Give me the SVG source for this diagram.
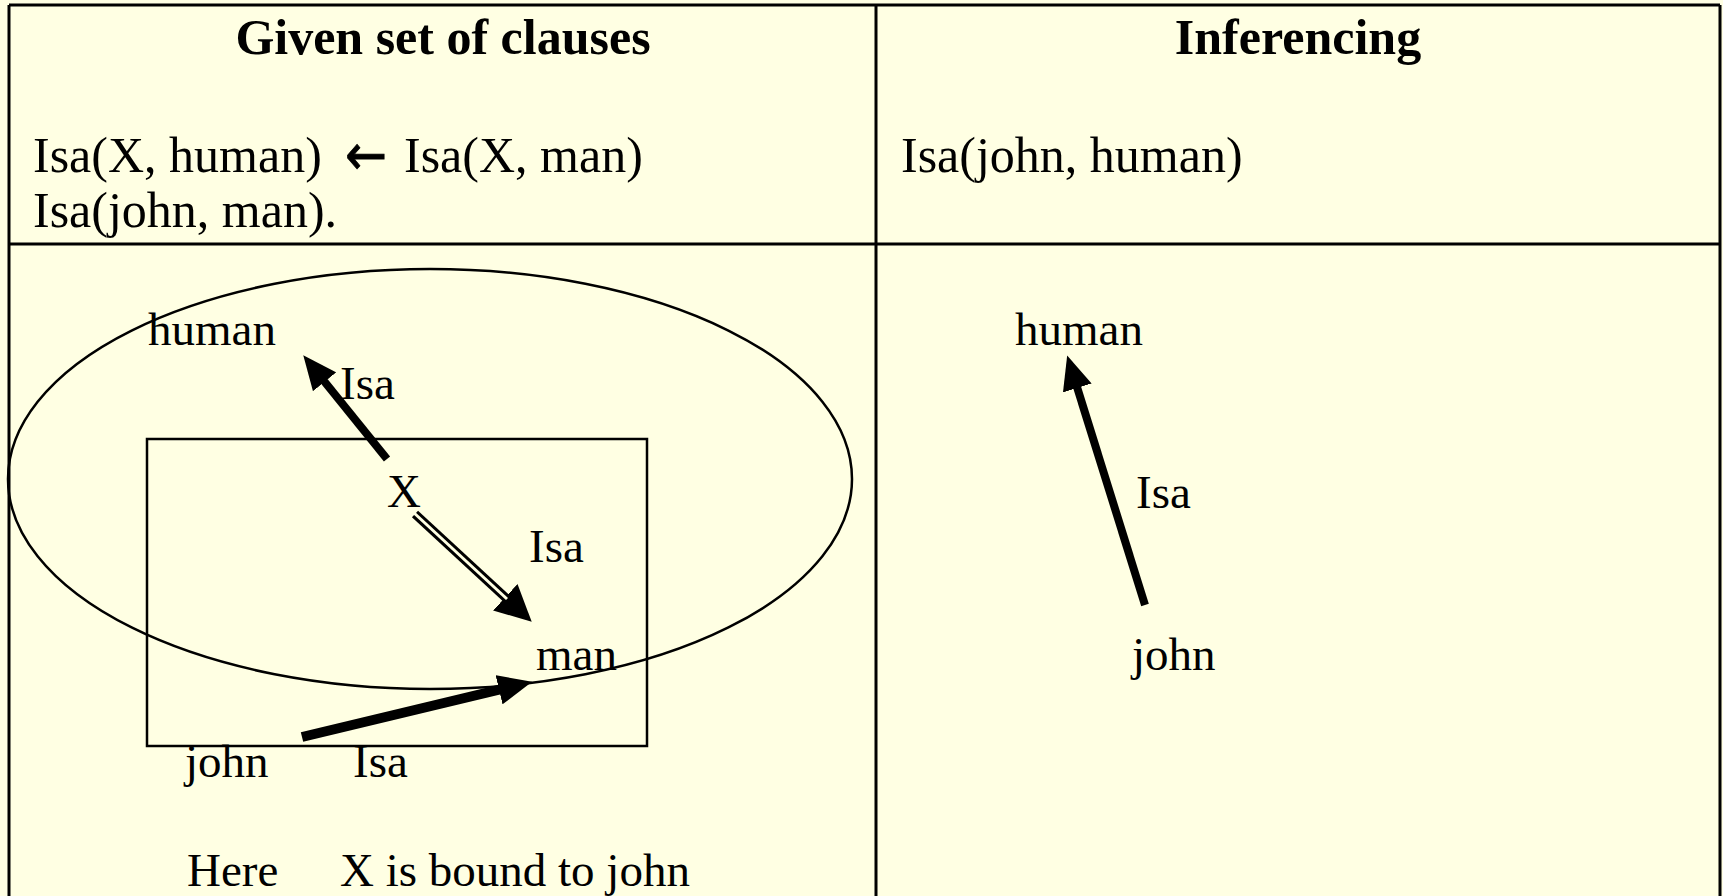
<svg xmlns="http://www.w3.org/2000/svg" width="1723" height="896" viewBox="0 0 1723 896">
<defs>
<style>
.t{font-family:"Liberation Serif","Times New Roman",serif;fill:#000}
.h{font-size:50px;font-weight:bold}
.u{font-size:50px}
.l{font-size:47px}
.grid{stroke:#000;stroke-width:3;fill:none}
.thin{stroke:#000;stroke-width:2.5;fill:none}
.arr{stroke:#000;fill:none;marker-end:url(#ah)}
</style>
<marker id="ah" markerUnits="userSpaceOnUse" markerWidth="34" markerHeight="30" viewBox="0 0 34 30" refX="1" refY="15" orient="auto">
<path d="M0,0 L34,15 L0,30 z" fill="#000"/>
</marker>
<marker id="ah2" markerUnits="userSpaceOnUse" markerWidth="36" markerHeight="36" viewBox="0 0 36 36" refX="1" refY="18" orient="auto">
<path d="M0,0 L36,18 L0,36 z" fill="#000"/>
</marker>
</defs>
<rect x="0" y="0" width="1723" height="896" fill="#FFFFE3"/>
<g id="table">
<path class="grid" d="M9,5 H1720 M9,5 V896 M1720,5 V896 M876,5 V896 M9,244 H1720"/>
</g>
<g id="headers">
<text class="t h" x="443" y="54" text-anchor="middle">Given set of clauses</text>
<text class="t h" x="1298" y="54" text-anchor="middle">Inferencing</text>
</g>
<g id="clauses">
<text class="t u" x="33" y="172">Isa(X, human)</text>
<text x="345" y="175" textLength="42" lengthAdjust="spacingAndGlyphs" style="font-family:'DejaVu Sans',sans-serif;font-size:58px;stroke:#000;stroke-width:0.8">←</text>
<text class="t u" x="404" y="172">Isa(X, man)</text>
<text class="t u" x="33" y="227">Isa(john, man).</text>
<text class="t u" x="901" y="172">Isa(john, human)</text>
</g>
<g id="scope">
<ellipse class="thin" cx="430" cy="479" rx="422" ry="210"/>
<rect class="thin" x="147" y="439" width="500" height="307"/>
</g>
<g id="connectors">
<line class="arr" x1="387" y1="459" x2="324" y2="381" stroke-width="8"/>
<line x1="415" y1="514" x2="506" y2="598" stroke="#000" stroke-width="9" marker-end="url(#ah2)"/>
<line x1="413" y1="512" x2="507" y2="599" stroke="#FFFFE3" stroke-width="3"/>
<line class="arr" x1="302" y1="737" x2="500" y2="689.5" stroke-width="10"/>
<line class="arr" x1="1145" y1="605" x2="1077" y2="387" stroke-width="8"/>
</g>
<g id="node-human-left"><text class="t l" x="148" y="345">human</text></g>
<g id="node-X"><text class="t l" x="387" y="507">X</text></g>
<g id="node-man"><text class="t l" x="536" y="670">man</text></g>
<g id="node-john-left"><text class="t l" x="185" y="777">john</text></g>
<g id="labels-left">
<text class="t l" x="340" y="399">Isa</text>
<text class="t l" x="529" y="562">Isa</text>
<text class="t l" x="353" y="777">Isa</text>
<text class="t l" x="187" y="886">Here</text>
<text class="t l" x="340" y="886">X is bound to john</text>
</g>
<g id="node-human-right"><text class="t l" x="1015" y="345">human</text></g>
<g id="node-john-right"><text class="t l" x="1132" y="670">john</text></g>
<g id="labels-right"><text class="t l" x="1136" y="508">Isa</text></g>
</svg>
